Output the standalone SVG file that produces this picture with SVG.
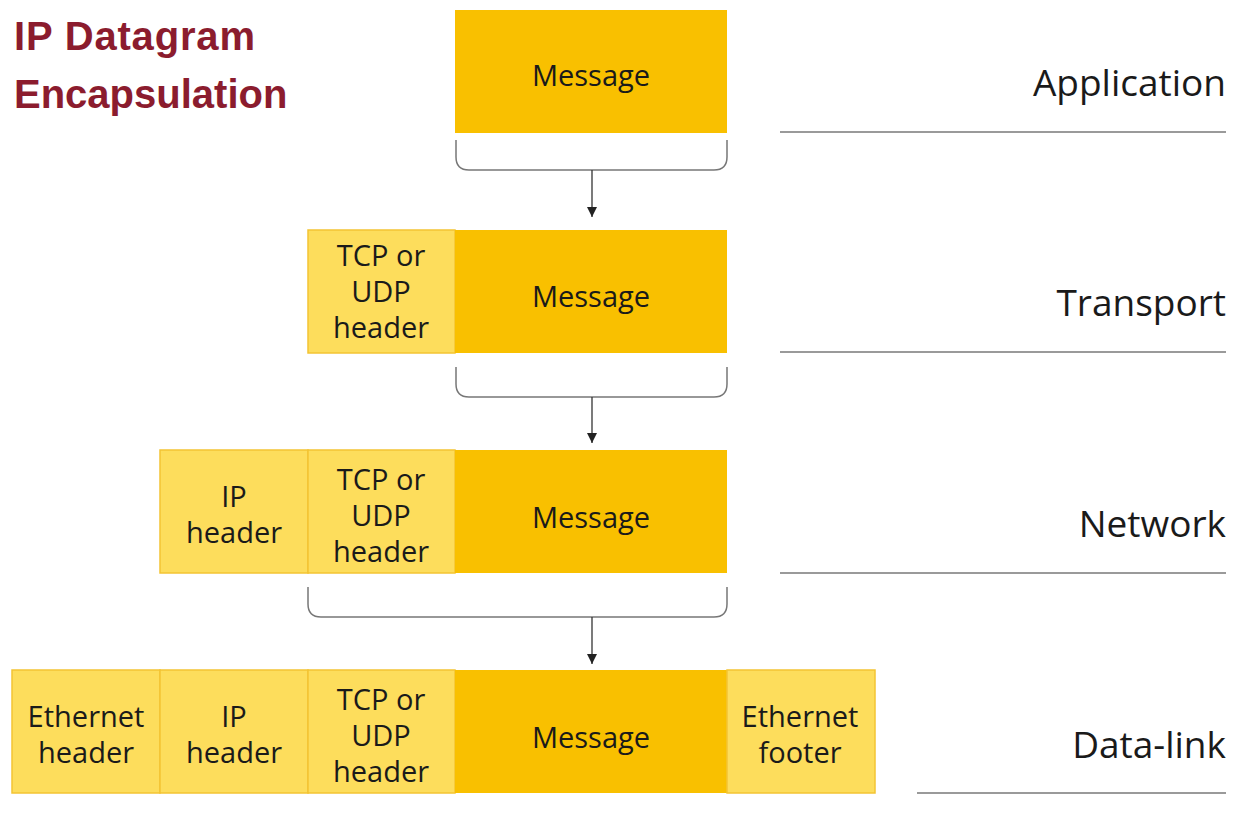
<svg xmlns="http://www.w3.org/2000/svg" width="1248" height="813" viewBox="0 0 1248 813">
<defs>
<marker id="ah" viewBox="0 0 10 10" refX="10" refY="5" markerWidth="10" markerHeight="10" markerUnits="userSpaceOnUse" orient="auto">
<path d="M0,0 L10,5 L0,10 Z" fill="#222"/>
</marker>
<style>
.msg{fill:#F9C000;}
.hdr{fill:#FDDD5C;stroke:#F3C433;stroke-width:1.5;}
.t{font-family:"Open Sans","Liberation Sans",sans-serif;font-size:29px;fill:#1a1a1a;text-anchor:middle;}
.lay{font-family:"Open Sans","Liberation Sans",sans-serif;font-size:37px;fill:#1a1a1a;text-anchor:end;}
.rule{stroke:#9a9a9a;stroke-width:2;}
.br{fill:none;stroke:#777;stroke-width:1.5;}
.ar{stroke:#333;stroke-width:1.3;marker-end:url(#ah);}
.title{font-family:"Liberation Sans",Arial,sans-serif;font-weight:bold;font-size:40px;fill:#8B1C2E;}
</style>
</defs>
<rect width="1248" height="813" fill="#fff"/>
<g id="title">
<text class="title" x="14" y="50" textLength="241">IP Datagram</text>
<text class="title" x="14" y="108">Encapsulation</text>
</g>
<g id="layer-application">
<rect class="msg" x="455" y="10" width="272" height="123"/>
<text class="t" x="591" y="86">Message</text>
<text class="lay" x="1226" y="96">Application</text>
<line class="rule" x1="780" y1="132" x2="1226" y2="132"/>
</g>
<g id="layer-transport">
<rect class="hdr" x="308" y="230" width="147" height="123"/>
<rect class="msg" x="455" y="230" width="272" height="123"/>
<text class="t" x="381" y="266">TCP or</text>
<text class="t" x="381" y="302">UDP</text>
<text class="t" x="381" y="338">header</text>
<text class="t" x="591" y="307">Message</text>
<text class="lay" x="1226" y="316">Transport</text>
<line class="rule" x1="780" y1="352" x2="1226" y2="352"/>
</g>
<g id="layer-network">
<rect class="hdr" x="160" y="450" width="148" height="123"/>
<rect class="hdr" x="308" y="450" width="147" height="123"/>
<rect class="msg" x="455" y="450" width="272" height="123"/>
<text class="t" x="234" y="507">IP</text>
<text class="t" x="234" y="543">header</text>
<text class="t" x="381" y="490">TCP or</text>
<text class="t" x="381" y="526">UDP</text>
<text class="t" x="381" y="562">header</text>
<text class="t" x="591" y="528">Message</text>
<text class="lay" x="1226" y="537">Network</text>
<line class="rule" x1="780" y1="573" x2="1226" y2="573"/>
</g>
<g id="layer-datalink">
<rect class="hdr" x="12" y="670" width="148" height="123"/>
<rect class="hdr" x="160" y="670" width="148" height="123"/>
<rect class="hdr" x="308" y="670" width="147" height="123"/>
<rect class="msg" x="455" y="670" width="272" height="123"/>
<rect class="hdr" x="727" y="670" width="148" height="123"/>
<text class="t" x="86" y="727">Ethernet</text>
<text class="t" x="86" y="763">header</text>
<text class="t" x="234" y="727">IP</text>
<text class="t" x="234" y="763">header</text>
<text class="t" x="381" y="710">TCP or</text>
<text class="t" x="381" y="746">UDP</text>
<text class="t" x="381" y="782">header</text>
<text class="t" x="591" y="748">Message</text>
<text class="t" x="800" y="727">Ethernet</text>
<text class="t" x="800" y="763">footer</text>
<text class="lay" x="1226" y="758">Data-link</text>
<line class="rule" x1="917" y1="793" x2="1226" y2="793"/>
</g>
<g id="connectors">
<path class="br" d="M456,140 V157 Q456,170 469,170 H714 Q727,170 727,157 V140"/>
<line class="ar" x1="592" y1="170" x2="592" y2="217"/>
<path class="br" d="M456,367 V384 Q456,397 469,397 H714 Q727,397 727,384 V367"/>
<line class="ar" x1="592" y1="397" x2="592" y2="443"/>
<path class="br" d="M308,587 V604 Q308,617 321,617 H714 Q727,617 727,604 V587"/>
<line class="ar" x1="592" y1="617" x2="592" y2="664"/>
</g>
</svg>
